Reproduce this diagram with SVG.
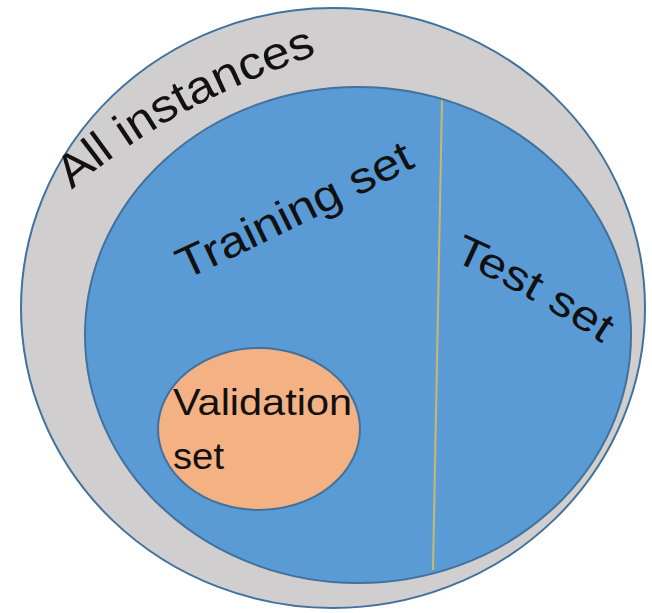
<svg xmlns="http://www.w3.org/2000/svg" width="652" height="613" viewBox="0 0 652 613">
  <style>
    .set { stroke: #41719c; stroke-width: 2; }
    .label { font-family: "Liberation Sans", Arial, sans-serif; fill: #111111; }
  </style>
  <defs>
    <path id="arc-all" d="M 72 190 Q 174 100 338 48"/>
    <path id="arc-train" d="M 185 280 Q 300 227 424 162"/>
    <path id="arc-test" d="M 452 260 Q 535 297 612 350"/>
  </defs>
  <rect width="652" height="613" fill="#ffffff"/>

  <g id="all-instances">
    <ellipse class="set" cx="333" cy="308" rx="312" ry="300" fill="#d0cece"/>
    <text class="label" font-size="46"><textPath href="#arc-all" textLength="282" lengthAdjust="spacingAndGlyphs">All instances</textPath></text>
  </g>

  <g id="training-set">
    <ellipse class="set" cx="358" cy="335" rx="273" ry="248" fill="#5b9bd5"/>
    <text class="label" font-size="44"><textPath href="#arc-train" textLength="258" lengthAdjust="spacingAndGlyphs">Training set</textPath></text>
  </g>

  <g id="connectors">
    <line x1="442" y1="100" x2="433" y2="570" stroke="#c9b86a" stroke-width="2"/>
  </g>

  <g id="test-set">
    <text class="label" font-size="42"><textPath href="#arc-test" textLength="172" lengthAdjust="spacingAndGlyphs">Test set</textPath></text>
  </g>

  <g id="validation-set">
    <ellipse class="set" cx="259" cy="429" rx="101" ry="81" fill="#f4b183"/>
    <text class="label" font-size="37" x="173" y="415" textLength="179" lengthAdjust="spacingAndGlyphs">Validation</text>
    <text class="label" font-size="37" x="173" y="469" textLength="51" lengthAdjust="spacingAndGlyphs">set</text>
  </g>
</svg>
